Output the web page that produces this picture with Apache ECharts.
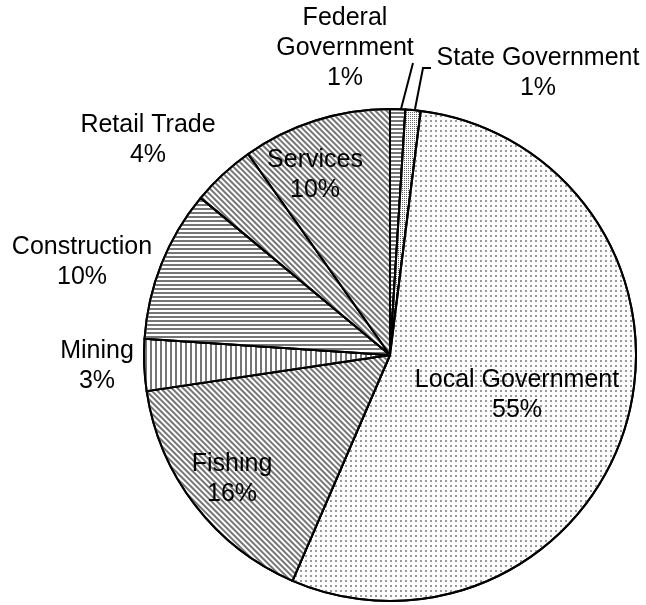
<!DOCTYPE html>
<html>
<head>
<meta charset="utf-8">
<script src="https://cdn.jsdelivr.net/npm/echarts@6/dist/echarts.min.js"></script>
<style>
html,body{margin:0;padding:0;background:#fff;}
#chart{width:646px;height:605px;}
</style>
</head>
<body>
<div id="chart"></div>
<script>
// Data (clockwise from 12 o'clock)
var categories = ['Federal Government', 'State Government', 'Local Government', 'Fishing', 'Mining', 'Construction', 'Retail Trade', 'Services'];
var labelNames = ['Federal\nGovernment', 'State Government', 'Local Government', 'Fishing', 'Mining', 'Construction', 'Retail Trade', 'Services'];
var values = [1, 1, 54.6, 16.2, 3.4, 10, 4.2, 9.8];

// Styling / layout (not data)
var labelPos = [[345, 48], [538, 73], [517, 395], [232, 479], [97, 366], [82, 262], [148, 140], [315, 175]];
var leaderLines = {
  0: [[401, 109], [407, 86], [413, 63]],
  1: [[415, 109], [423, 68], [431, 68]]
};
var LINE = '#767676';
var decals = [
  {symbol: 'rect', color: LINE, dashArrayX: [1, 0], dashArrayY: [2, 2], rotation: 0},             // Federal: horizontal
  {symbol: 'rect', color: '#666', dashArrayX: [1, 1], dashArrayY: [1, 1], rotation: 0},           // State: dense checker
  {symbol: 'rect', color: '#999', dashArrayX: [2, 3], dashArrayY: [2, 3], rotation: 0},           // Local: dots
  {symbol: 'rect', color: LINE, dashArrayX: [1, 0], dashArrayY: [2, 2], rotation: Math.PI / 4},   // Fishing: diagonal
  {symbol: 'rect', color: LINE, dashArrayX: [2, 3], dashArrayY: [1, 0], rotation: 0},             // Mining: vertical
  {symbol: 'rect', color: LINE, dashArrayX: [1, 0], dashArrayY: [2, 2], rotation: 0},             // Construction: horizontal
  {symbol: 'rect', color: LINE, dashArrayX: [1, 0], dashArrayY: [2, 2], rotation: Math.PI / 4},   // Retail: diagonal
  {symbol: 'rect', color: LINE, dashArrayX: [1, 0], dashArrayY: [2, 2], rotation: Math.PI / 4}    // Services: diagonal
];

var seriesData = categories.map(function (c, i) {
  return {
    name: c,
    value: values[i],
    itemStyle: {color: '#ffffff', decal: decals[i]},
    labelLine: {show: !!leaderLines[i]}
  };
});

var chart = echarts.init(document.getElementById('chart'), null, {renderer: 'canvas'});
chart.setOption({
  animation: false,
  backgroundColor: '#ffffff',
  series: [{
    type: 'pie',
    center: [390, 355],
    radius: [0, 246],
    startAngle: 90,
    clockwise: true,
    avoidLabelOverlap: false,
    itemStyle: {borderColor: '#000', borderWidth: 2},
    label: {
      show: true,
      position: 'outside',
      color: '#000',
      fontFamily: '"Liberation Sans", Arial, sans-serif',
      fontSize: 25,
      lineHeight: 30,
      formatter: function (p) { return labelNames[p.dataIndex] + '\n' + Math.round(p.value) + '%'; }
    },
    labelLine: {lineStyle: {color: '#000', width: 2}, smooth: false},
    labelLayout: function (p) {
      var i = p.dataIndex;
      var r = {x: labelPos[i][0], y: labelPos[i][1], align: 'center', verticalAlign: 'middle'};
      if (leaderLines[i]) r.labelLinePoints = leaderLines[i];
      return r;
    },
    emphasis: {disabled: true},
    data: seriesData
  }]
});
</script>
</body>
</html>
